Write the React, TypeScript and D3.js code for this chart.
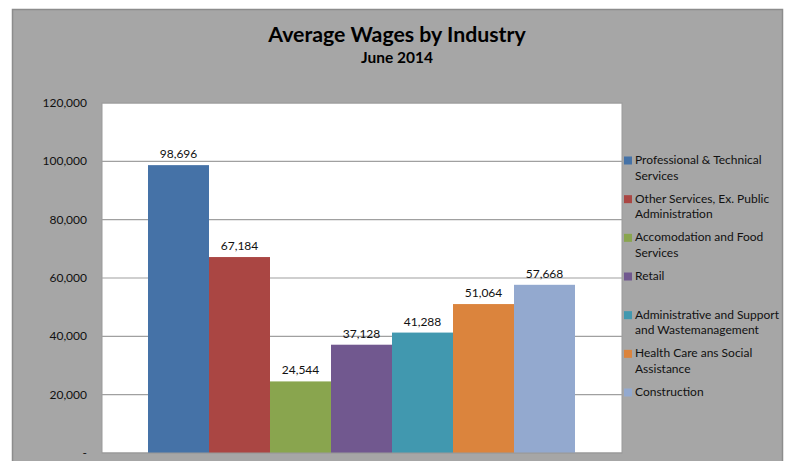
import React, { useRef, useEffect } from "react";
import * as d3 from "d3";

const industries = [
  "Professional & Technical Services",
  "Other Services, Ex. Public Administration",
  "Accomodation and Food Services",
  "Retail",
  "Administrative and Support and Wastemanagement",
  "Health Care ans Social Assistance",
  "Construction",
];
// legend text wrapped the way the original chart shows it
const legendLines = [
  ["Professional & Technical", "Services"],
  ["Other Services, Ex. Public", "Administration"],
  ["Accomodation and Food", "Services"],
  ["Retail"],
  ["Administrative and Support", "and Wastemanagement"],
  ["Health Care ans Social", "Assistance"],
  ["Construction"],
];
const wages = [98696, 67184, 24544, 37128, 41288, 51064, 57668];
const colors = ["#4572A7", "#AA4643", "#89A54E", "#71588F", "#4198AF", "#DB843D", "#93A9CF"];
const yTicks = [0, 20000, 40000, 60000, 80000, 100000, 120000];

const FONT = "Lato, 'Open Sans', sans-serif";

const App = () => {
  const node: any = useRef();

  useEffect(() => {
    const width = 788,
      height = 461;
    const plot = { left: 102, top: 103, right: 622, bottom: 453 };

    const svg = d3.select(node.current).attr("width", width).attr("height", height);
    svg.selectAll("*").remove();

    // outer chart background
    svg
      .append("rect")
      .attr("x", 12.5)
      .attr("y", 9.5)
      .attr("width", 770)
      .attr("height", 470)
      .attr("fill", "#a6a6a6")
      .attr("stroke", "#8c8c8c")
      .attr("stroke-width", 1.5);

    // title
    svg
      .append("text")
      .attr("x", 397)
      .attr("y", 42)
      .attr("text-anchor", "middle")
      .style("font-family", FONT)
      .style("font-weight", "bold")
      .style("font-size", "21.3px")
      .text("Average Wages by Industry");
    svg
      .append("text")
      .attr("x", 397)
      .attr("y", 63)
      .attr("text-anchor", "middle")
      .style("font-family", FONT)
      .style("font-weight", "bold")
      .style("font-size", "15.5px")
      .text("June 2014");

    // plot area
    svg
      .append("rect")
      .attr("x", plot.left)
      .attr("y", plot.top)
      .attr("width", plot.right - plot.left)
      .attr("height", plot.bottom - plot.top)
      .attr("fill", "#ffffff")
      .attr("stroke", "#999")
      .attr("stroke-width", 1);

    const y = d3.scaleLinear().domain([0, 120000]).range([plot.bottom, plot.top]);
    const x = d3
      .scaleBand()
      .domain(industries)
      .range([plot.left + 46, plot.right - 47])
      .padding(0);

    // gridlines
    svg
      .append("g")
      .selectAll("line")
      .data(yTicks.filter((t) => t > 0))
      .enter()
      .append("line")
      .attr("x1", plot.left)
      .attr("x2", plot.right)
      .attr("y1", (t: number) => y(t))
      .attr("y2", (t: number) => y(t))
      .attr("stroke", "#a0a0a0")
      .attr("stroke-width", 1.2);

    // y axis labels
    svg
      .append("g")
      .selectAll("text")
      .data(yTicks)
      .enter()
      .append("text")
      .attr("x", 87)
      .attr("y", (t: number) => y(t) + 4)
      .attr("text-anchor", "end")
      .style("font-family", FONT)
      .style("font-size", "12px")
      .attr("fill", "#111")
      .text((t: number) => (t === 0 ? "-" : d3.format(",")(t)));

    // bars
    svg
      .append("g")
      .selectAll("rect")
      .data(wages)
      .enter()
      .append("rect")
      .attr("x", (_d: number, i: number) => x(industries[i]) || 0)
      .attr("y", (d: number) => y(d))
      .attr("width", x.bandwidth())
      .attr("height", (d: number) => plot.bottom - y(d))
      .attr("fill", (_d: number, i: number) => colors[i]);

    // data labels
    svg
      .append("g")
      .selectAll("text")
      .data(wages)
      .enter()
      .append("text")
      .attr("x", (_d: number, i: number) => (x(industries[i]) || 0) + x.bandwidth() / 2)
      .attr("y", (d: number) => y(d) - 7)
      .attr("text-anchor", "middle")
      .style("font-family", FONT)
      .style("font-size", "12px")
      .attr("fill", "#111")
      .text((d: number) => d3.format(",")(d));

    // bottom axis line
    svg
      .append("line")
      .attr("x1", plot.left)
      .attr("x2", plot.right)
      .attr("y1", plot.bottom)
      .attr("y2", plot.bottom)
      .attr("stroke", "#999");

    // legend
    const ly = d3.scalePoint().domain(industries).range([160, 392]);
    const legend = svg
      .append("g")
      .selectAll("g")
      .data(industries)
      .enter()
      .append("g")
      .attr("transform", (d: string) => "translate(624," + ly(d) + ")");
    legend
      .append("rect")
      .attr("x", 0)
      .attr("y", -3.5)
      .attr("width", 8)
      .attr("height", 8)
      .attr("fill", (_d: string, i: number) => colors[i]);
    legend
      .append("text")
      .attr("x", 11)
      .attr("y", 4)
      .style("font-family", FONT)
      .style("font-size", "12px")
      .attr("fill", "#111")
      .selectAll("tspan")
      .data((_d: string, i: number) => legendLines[i])
      .enter()
      .append("tspan")
      .attr("x", 11)
      .attr("dy", (_l: string, j: number) => (j === 0 ? 0 : 15.5))
      .text((l: string) => l);
  }, []);

  return (
    <div style={{ position: "absolute", left: 0, top: 0 }}>
      <svg ref={node} style={{ display: "block" }}></svg>
    </div>
  );
};

export default App;
